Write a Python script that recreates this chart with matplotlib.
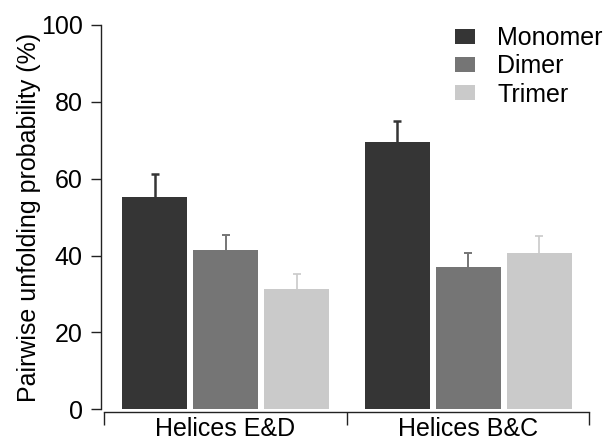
import matplotlib
matplotlib.use("Agg")
import matplotlib.pyplot as plt
import numpy as np

plt.rcParams['font.family'] = ['Liberation Sans', 'DejaVu Sans']

groups = ["Helices E&D", "Helices B&C"]
series = ["Monomer", "Dimer", "Trimer"]
values = {
    "Monomer": [55.3, 69.6],
    "Dimer": [41.5, 37.0],
    "Trimer": [31.2, 40.6],
}
errors = {
    "Monomer": [5.9, 5.4],
    "Dimer": [3.8, 3.8],
    "Trimer": [4.1, 4.4],
}
colors = {"Monomer": "#353535", "Dimer": "#757575", "Trimer": "#cacaca"}
elw = {"Monomer": 1.8, "Dimer": 1.4, "Trimer": 1.2}

FS = 18
W, H = 607, 441
fig = plt.figure(figsize=(W / 100, H / 100), dpi=100)
ax_left, ax_right = 101, 600
y0_px, y100_px = 409.3, 25
ax = fig.add_axes([ax_left / W, 1 - y0_px / H, (ax_right - ax_left) / W, (y0_px - y100_px) / H])

px_per_unit = 242.5
bar_w = 65 / px_per_unit
step = 71 / px_per_unit
x = np.arange(len(groups))
for i, s in enumerate(series):
    xs = x + (i - 1) * step
    v = np.array(values[s])
    e = np.array(errors[s])
    ax.bar(xs, v, width=bar_w, color=colors[s], zorder=2, label=s)
    ax.vlines(xs, v, v + e, colors=colors[s], linewidth=elw[s], zorder=1)
    ax.plot(xs, v + e, linestyle='none', marker='_', markersize=6,
            markeredgewidth=elw[s], color=colors[s], zorder=1)

xl = -0.5 - 3.25 / px_per_unit
ax.set_xlim(xl, xl + (ax_right - ax_left) / px_per_unit)
ax.set_ylim(0, 100)

for side in ['top', 'right']:
    ax.spines[side].set_visible(False)
ax.spines['left'].set_bounds(0, 100)
ax.spines['bottom'].set_bounds(-0.5, 1.5)
ax.spines['bottom'].set_position(('outward', 2.2))
for side in ['left', 'bottom']:
    ax.spines[side].set_linewidth(1.0)
    ax.spines[side].set_color('#222222')

ax.set_yticks([0, 20, 40, 60, 80, 100])
ax.tick_params(axis='y', direction='out', length=7.2, width=1.0, colors='#222222',
               labelsize=FS, pad=6, labelcolor='black')
ax.set_xticks([-0.5, 0.5, 1.5])
ax.set_xticklabels([])
ax.set_xticks(x, minor=True)
ax.set_xticklabels(groups, minor=True)
ax.tick_params(axis='x', which='major', direction='out', length=9.5, width=1.0, colors='#222222')
ax.tick_params(axis='x', which='minor', length=0, labelsize=FS, pad=3, labelcolor='black')

ax.set_ylabel("Pairwise unfolding probability (%)", fontsize=FS, labelpad=0)

leg = ax.legend(loc='upper left', bbox_to_anchor=(455 / W, 1 - 26 / H),
                bbox_transform=fig.transFigure, frameon=False, fontsize=FS,
                handlelength=0.8, handleheight=0.55, handletextpad=0.9,
                labelspacing=0.17, borderpad=0, borderaxespad=0)

fig.savefig("out.png", dpi=100)
